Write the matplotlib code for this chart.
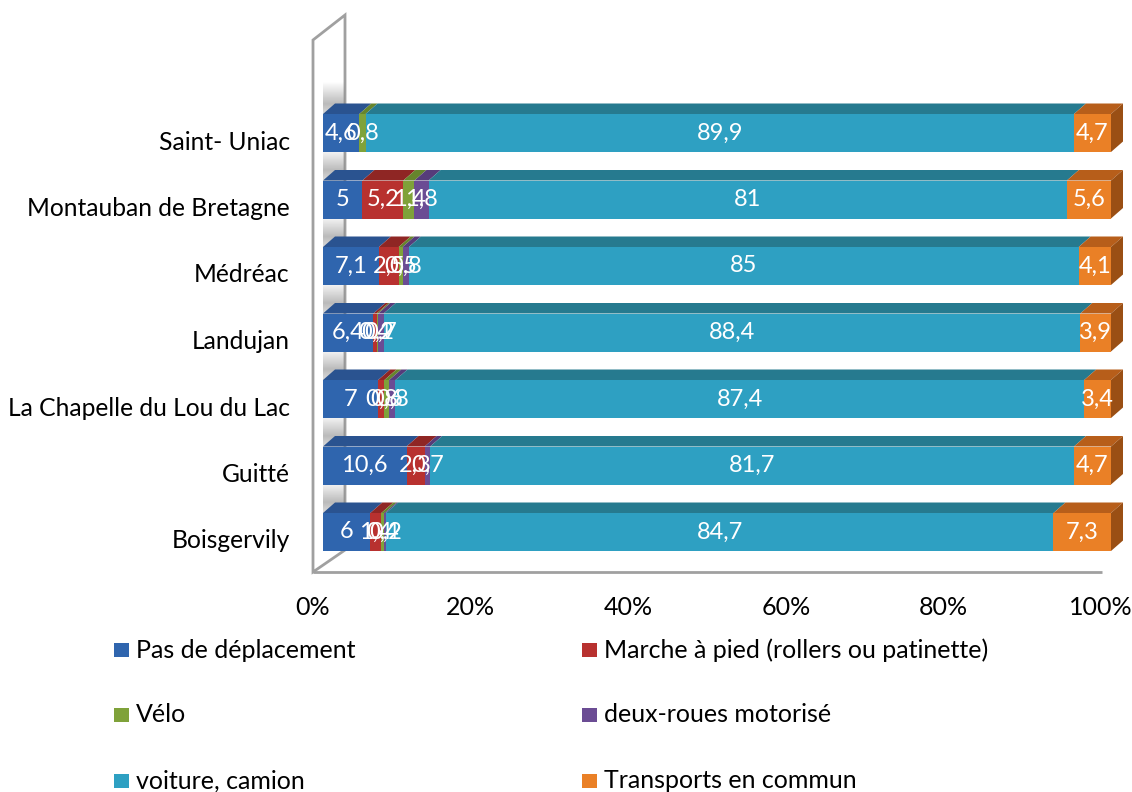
import matplotlib
matplotlib.use("Agg")
import matplotlib.pyplot as plt
from matplotlib.patches import Polygon, Rectangle
from matplotlib.transforms import ScaledTranslation
import numpy as np

plt.rcParams['font.family'] = ['Lato', 'DejaVu Sans']

# ---- data ----
communes = ["Boisgervily", "Guitté", "La Chapelle du Lou du Lac", "Landujan",
            "Médréac", "Montauban de Bretagne", "Saint- Uniac"]
series_names = ["Pas de déplacement", "Marche à pied (rollers ou patinette)", "Vélo",
                "deux-roues motorisé", "voiture, camion", "Transports en commun"]
pas_deplacement = [6, 10.6, 7, 6.4, 7.1, 5, 4.6]
marche = [1.4, 2.3, 0.8, 0.4, 2.5, 5.2, 0]
velo = [0.4, 0, 0.6, 0.2, 0.5, 1.4, 0.8]
deux_roues = [0.2, 0.7, 0.8, 0.7, 0.8, 1.8, 0]
voiture = [84.7, 81.7, 87.4, 88.4, 85, 81, 89.9]
transports = [7.3, 4.7, 3.4, 3.9, 4.1, 5.6, 4.7]
xticks = [0, 20, 40, 60, 80, 100]

series = [pas_deplacement, marche, velo, deux_roues, voiture, transports]
front_cols = ["#2F65AE", "#B8312F", "#7FA23A", "#6B4C94", "#2EA0C2", "#EA8026"]
top_cols = ["#2A5390", "#8F2624", "#66852C", "#563C7A", "#267A8F", "#B75E1A"]
side_col = "#9A4F14"

W, H = 1132, 792
fig = plt.figure(figsize=(W / 100, H / 100), dpi=100)
ax_l, ax_r, ax_t, ax_b = 323, 1111, 15, 572
ax = fig.add_axes([ax_l / W, 1 - ax_b / H, (ax_r - ax_l) / W, (ax_b - ax_t) / H])

px_x = (ax_r - ax_l) / 100.0
row_px = 66.5
y0_px = 532
ymin = -(ax_b - y0_px) / row_px
ymax = (y0_px - ax_t) / row_px
ax.set_xlim(0, 100)
ax.set_ylim(ymin, ymax)

h = 38 / row_px
dx = 12 / px_x
dy = 10.5 / row_px

ypos = np.arange(len(communes))

# wall (axes coords)
wall_pts = [(-10 / 788, (572 - 40) / 557), (22 / 788, 1.0), (22 / 788, 22 / 557), (-10 / 788, 0)]
wall = Polygon(wall_pts, closed=True, transform=ax.transAxes, facecolor="white",
               edgecolor="#A0A0A0", lw=2, clip_on=False, zorder=0)
ax.add_patch(wall)
# soft shading on wall above each bar
ny = 600
ygrid = np.linspace(ymin, ymax, ny)
shade = np.zeros(ny)
for yi in ypos:
    tops = yi + h / 2 + dy
    d = (ygrid - tops) * row_px
    band = np.where((d > -h * row_px) & (d < 22), np.clip(1 - np.abs(d) / 22, 0, 1), 0)
    shade = np.maximum(shade, band)
img = np.ones((ny, 2, 4))
img[..., :3] = 0.55
img[..., 3] = (shade[::-1, None] * 0.6)
im = ax.imshow(img, extent=(-10 / px_x, 22 / px_x, ymin, ymax), aspect="auto",
               zorder=0.5, interpolation="bilinear")
im.set_clip_path(Polygon(wall_pts, closed=True, transform=ax.transAxes))
ax.set_xlim(0, 100)
ax.set_ylim(ymin, ymax)

ax.plot([-10 / 788, (1102 - 323) / 788], [0, 0], transform=ax.transAxes, color="#A0A0A0",
        lw=2, clip_on=False, zorder=0, solid_capstyle="butt")

for i, yi in enumerate(ypos):
    cum = 0.0
    for j, s in enumerate(series):
        v = s[i]
        if v <= 0:
            continue
        ax.barh(yi, v, left=cum, height=h, color=front_cols[j], edgecolor="none", zorder=3)
        top = Polygon([(cum, yi + h / 2), (cum + v, yi + h / 2), (cum + v + dx, yi + h / 2 + dy),
                       (cum + dx, yi + h / 2 + dy)], closed=True, facecolor=top_cols[j],
                      edgecolor="none", zorder=2, clip_on=False)
        ax.add_patch(top)
        label = f"{v:g}".replace(".", ",")
        ax.text(cum + v / 2, yi, label, ha="center", va="center", color="white",
                fontsize=17, zorder=5)
        cum += v
    side = Polygon([(cum, yi - h / 2), (cum, yi + h / 2), (cum + dx, yi + h / 2 + dy),
                    (cum + dx, yi - h / 2 + dy)], closed=True, facecolor=side_col,
                   edgecolor="none", zorder=2, clip_on=False)
    ax.add_patch(side)

for sp in ax.spines.values():
    sp.set_visible(False)
ax.set_xticks(xticks)
ax.set_xticklabels([f"{t}%" for t in xticks], fontsize=18)
ax.set_yticks(ypos)
ax.set_yticklabels(communes, fontsize=17.7)
ax.tick_params(axis="both", length=0)
ax.tick_params(axis="x", pad=17)
ax.tick_params(axis="y", pad=24)
for lab in ax.get_xticklabels():
    lab.set_transform(lab.get_transform() + ScaledTranslation(-10 / 100, 0, fig.dpi_scale_trans))
for lab in ax.get_yticklabels():
    lab.set_transform(lab.get_transform() + ScaledTranslation(0, -7 / 100, fig.dpi_scale_trans))

# legend (row-wise, 2 columns)
leg_x = [114, 582]
leg_y = [650, 715, 781]
for j, name in enumerate(series_names):
    r, c = j // 2, j % 2
    x, y = leg_x[c], leg_y[r]
    fig.patches.append(Rectangle((x / W, 1 - (y + 7) / H), 15 / W, 14 / H,
                                 transform=fig.transFigure, facecolor=front_cols[j],
                                 edgecolor="none"))
    fig.text((x + 22) / W, 1 - y / H, name, ha="left", va="center", fontsize=18)

fig.savefig("out.png", dpi=100, facecolor="white")
